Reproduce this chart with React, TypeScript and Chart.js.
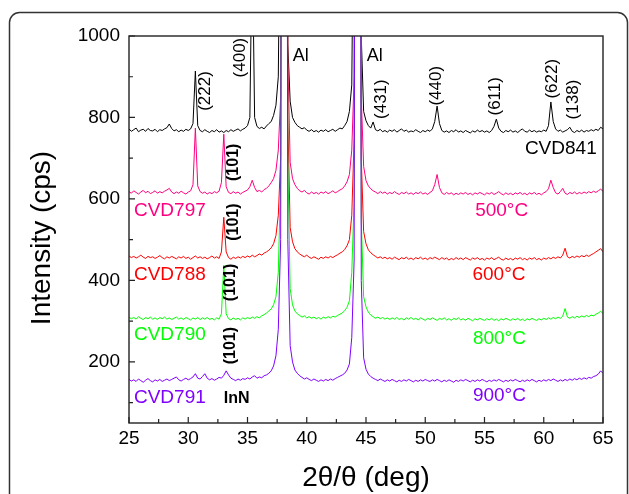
import React, { useEffect, useRef } from 'react';
import { Chart, registerables } from 'chart.js';

Chart.register(...registerables);

const FONT = "'Liberation Sans', Arial, Helvetica, sans-serif";

// Scan grid (2θ, deg), 0.2° step from 25 to 65
const twoTheta: number[] = Array.from({ length: 201 }, (_, i) => Math.round((25 + i * 0.2) * 10) / 10);

// Intensities (cps), one value per 0.2° step
const cvd841 = [
  772, 766, 770, 774, 765, 769, 771, 766, 773, 768,
  767, 771, 765, 770, 768, 772, 775, 784, 773, 767,
  770, 765, 769, 766, 771, 768, 772, 785, 914, 780,
  768, 765, 770, 766, 763, 768, 765, 770, 764, 767,
  763, 768, 765, 770, 766, 769, 772, 767, 771, 774,
  780, 800, 1250, 800, 778, 773, 776, 772, 779, 785,
  790, 805, 830, 900, 1500, 4000, 4000, 980, 840, 800,
  788, 780, 776, 772, 775, 769, 766, 770, 765, 768,
  764, 769, 766, 770, 765, 768, 771, 766, 770, 774,
  772, 780, 790, 815, 880, 1500, 4000, 4000, 1000, 815,
  792, 780, 774, 789, 770, 767, 771, 765, 768, 764,
  769, 766, 770, 764, 768, 772, 766, 769, 764, 767,
  765, 770, 766, 763, 768, 765, 769, 766, 772, 790,
  828, 785, 768, 764, 767, 763, 768, 765, 770, 764,
  767, 763, 768, 765, 762, 767, 764, 769, 765, 768,
  764, 767, 763, 768, 778, 796, 774, 766, 763, 768,
  765, 769, 764, 767, 763, 768, 772, 766, 764, 769,
  765, 768, 764, 767, 765, 769, 766, 780, 838, 790,
  772, 766, 769, 764, 767, 770, 776, 766, 763, 768,
  765, 769, 764, 768, 766, 770, 767, 771, 768, 776,
  772,
];

const cvd797 = [
  618, 614, 620, 616, 612, 617, 621, 615, 619, 613,
  616, 620, 614, 618, 615, 619, 622, 626, 617, 613,
  617, 614, 619, 615, 612, 617, 620, 635, 774, 632,
  618, 614, 617, 612, 616, 613, 618, 615, 619, 640,
  759, 630, 616, 613, 618, 614, 617, 612, 616, 619,
  622, 630, 646, 628, 618, 621, 617, 623, 626, 632,
  640, 650, 670, 720, 850, 4000, 4000, 950, 690, 650,
  635, 626, 620, 617, 621, 615, 612, 617, 613, 616,
  612, 617, 614, 618, 613, 616, 620, 615, 618, 622,
  625, 632, 642, 660, 720, 900, 4000, 4000, 850, 680,
  645, 632, 625, 620, 617, 613, 618, 614, 617, 612,
  616, 613, 618, 614, 611, 616, 613, 617, 612, 615,
  611, 616, 613, 617, 612, 615, 611, 616, 620, 635,
  660, 628, 615, 611, 616, 612, 615, 610, 614, 611,
  615, 612, 616, 611, 614, 610, 615, 612, 616, 613,
  610, 615, 612, 616, 611, 614, 618, 613, 610, 615,
  611, 614, 610, 615, 612, 616, 611, 614, 610, 615,
  612, 616, 611, 614, 610, 615, 618, 625, 646, 628,
  615, 612, 618, 626, 614, 611, 616, 613, 617, 612,
  616, 613, 617, 614, 618, 615, 619, 616, 620, 624,
  619,
];

const cvd788 = [
  460, 456, 459, 455, 458, 462, 457, 454, 459, 456,
  458, 454, 457, 461, 456, 453, 458, 455, 459, 456,
  453, 458, 455, 459, 454, 457, 452, 456, 460, 455,
  458, 454, 457, 453, 456, 460, 455, 458, 454, 470,
  555, 470, 456, 452, 457, 454, 458, 455, 459, 456,
  460, 457, 462, 458, 461, 465, 462, 467, 470, 474,
  480, 490, 510, 560, 700, 4000, 4000, 800, 530, 495,
  478, 470, 465, 461, 458, 462, 457, 454, 458, 455,
  452, 457, 454, 458, 455, 459, 456, 460, 463, 467,
  470, 476, 485, 500, 560, 750, 4000, 4000, 700, 520,
  490, 475, 468, 463, 459, 455, 458, 454, 457, 453,
  456, 452, 457, 454, 451, 456, 453, 457, 452, 455,
  451, 456, 453, 457, 452, 455, 451, 456, 453, 457,
  454, 451, 456, 452, 455, 450, 454, 451, 456, 452,
  455, 451, 456, 453, 450, 455, 452, 456, 451, 454,
  450, 455, 452, 456, 451, 454, 457, 452, 450, 455,
  451, 454, 450, 455, 452, 456, 451, 454, 450, 455,
  452, 456, 451, 454, 450, 455, 452, 456, 453, 457,
  454, 458, 455, 462, 479, 458, 455, 459, 456, 460,
  457, 461, 458, 462, 459, 463, 466, 470, 474, 478,
  470,
];

const cvd790 = [
  310, 306, 309, 305, 311, 307, 304, 309, 306, 310,
  305, 308, 304, 309, 306, 310, 305, 308, 304, 307,
  310, 305, 308, 304, 309, 306, 303, 308, 305, 309,
  304, 308, 305, 309, 304, 307, 303, 308, 305, 318,
  437, 318, 306, 303, 308, 304, 307, 303, 308, 305,
  309, 306, 310, 307, 311, 308, 313, 316, 320, 325,
  330, 340, 360, 420, 650, 4000, 4000, 700, 380, 340,
  325, 318, 314, 310, 313, 308, 311, 307, 310, 306,
  309, 305, 310, 307, 311, 308, 312, 310, 314, 317,
  320, 326, 334, 350, 420, 600, 4000, 4000, 550, 360,
  335, 322, 315, 311, 307, 310, 306, 309, 305, 308,
  304, 308, 305, 309, 304, 307, 303, 308, 305, 309,
  304, 307, 303, 308, 305, 302, 307, 304, 308, 305,
  302, 307, 304, 308, 303, 306, 302, 307, 304, 308,
  303, 306, 302, 307, 304, 301, 306, 303, 307, 304,
  302, 306, 303, 307, 302, 305, 301, 306, 303, 307,
  304, 302, 306, 303, 307, 302, 305, 301, 306, 303,
  307, 304, 302, 306, 303, 307, 304, 308, 305, 309,
  306, 310, 307, 312, 331, 310, 307, 311, 308, 312,
  309, 313, 310, 314, 311, 315, 313, 317, 320, 324,
  319,
];

const cvd791 = [
  157, 153, 156, 152, 158, 154, 150, 155, 159, 154,
  151, 156, 153, 157, 152, 155, 158, 154, 157, 160,
  163, 156, 153, 157, 160, 156, 159, 163, 171, 160,
  158, 164, 171, 160, 156, 159, 155, 158, 162, 160,
  167, 178, 168, 160, 157, 154, 158, 155, 159, 157,
  161, 158, 163, 166, 160, 163, 161, 166, 168, 172,
  178, 190, 215, 280, 500, 4000, 4000, 500, 240, 200,
  180, 172, 166, 162, 158, 161, 157, 154, 158, 155,
  152, 156, 153, 157, 154, 158, 155, 159, 162, 165,
  168, 172, 180, 195, 260, 450, 4000, 4000, 400, 210,
  182, 170, 164, 160, 157, 154, 158, 155, 152, 156,
  153, 157, 154, 151, 155, 152, 156, 153, 157, 154,
  151, 155, 152, 156, 153, 157, 154, 152, 156, 153,
  157, 154, 151, 155, 152, 156, 153, 150, 155, 152,
  156, 153, 157, 154, 151, 155, 152, 156, 153, 157,
  154, 151, 155, 152, 156, 153, 157, 154, 151, 155,
  152, 156, 153, 157, 154, 151, 155, 152, 156, 153,
  157, 154, 151, 155, 152, 156, 153, 157, 154, 158,
  155, 152, 156, 153, 157, 154, 158, 155, 159, 156,
  160, 157, 161, 158, 162, 160, 164, 166, 170, 178,
  172,
];

const seriesNames = ['CVD841', 'CVD797', 'CVD788', 'CVD790', 'CVD791'];
const seriesColors = ['#000000', '#ff0080', '#ff0000', '#00ff00', '#8000ff'];
const seriesData = [cvd841, cvd797, cvd788, cvd790, cvd791];

const xTicks = [25, 30, 35, 40, 45, 50, 55, 60, 65];
const xMinorTicks = [27.5, 32.5, 37.5, 42.5, 47.5, 52.5, 57.5, 62.5];
const yTicks = [200, 400, 600, 800, 1000];
const yMinorTicks = [100, 300, 500, 700, 900];

const xTitle = '2θ/θ (deg)';
const yTitle = 'Intensity (cps)';

// Text annotations, placed in data coordinates
type Note = { text: string; x: number; y: number; color: string; size: number; bold?: boolean; rot?: boolean; align?: CanvasTextAlign };
const peakLabels: Note[] = [
  { text: '(222)', x: 31.41, y: 865, color: '#000', size: 17, rot: true },
  { text: '(400)', x: 34.41, y: 947, color: '#000', size: 17, rot: true },
  { text: 'Al', x: 38.81, y: 951, color: '#000', size: 18, align: 'left' },
  { text: 'Al', x: 45.06, y: 951, color: '#000', size: 18, align: 'left' },
  { text: '(431)', x: 46.27, y: 845, color: '#000', size: 17, rot: true },
  { text: '(440)', x: 50.95, y: 878, color: '#000', size: 17, rot: true },
  { text: '(611)', x: 55.89, y: 852, color: '#000', size: 17, rot: true },
  { text: '(622)', x: 60.74, y: 895, color: '#000', size: 17, rot: true },
  { text: '(138)', x: 62.49, y: 844, color: '#000', size: 17, rot: true },
  { text: '(101)', x: 33.85, y: 690, color: '#000', size: 16, bold: true, rot: true },
  { text: '(101)', x: 33.85, y: 543, color: '#000', size: 16, bold: true, rot: true },
  { text: '(101)', x: 33.55, y: 395, color: '#000', size: 16, bold: true, rot: true },
  { text: '(101)', x: 33.55, y: 240, color: '#000', size: 16, bold: true, rot: true },
  { text: 'InN', x: 34.09, y: 111, color: '#000', size: 16, bold: true },
];
const sampleLabels: Note[] = [
  { text: 'CVD841', x: 64.47, y: 724, color: '#000000', size: 19, align: 'right' },
  { text: 'CVD797', x: 25.42, y: 570, color: '#ff0080', size: 19, align: 'left' },
  { text: 'CVD788', x: 25.42, y: 415, color: '#ff0000', size: 19, align: 'left' },
  { text: 'CVD790', x: 25.42, y: 267, color: '#00ff00', size: 19, align: 'left' },
  { text: 'CVD791', x: 25.42, y: 111, color: '#8000ff', size: 19, align: 'left' },
];
const tempLabels: Note[] = [
  { text: '500°C', x: 56.45, y: 570, color: '#ff0080', size: 19 },
  { text: '600°C', x: 56.22, y: 415, color: '#ff0000', size: 19 },
  { text: '800°C', x: 56.26, y: 257, color: '#00ff00', size: 19 },
  { text: '900°C', x: 56.26, y: 116, color: '#8000ff', size: 19 },
];

function drawNote(ctx: CanvasRenderingContext2D, chart: any, n: Note) {
  const px = chart.scales.x.getPixelForValue(n.x);
  const py = chart.scales.y.getPixelForValue(n.y);
  ctx.save();
  ctx.fillStyle = n.color;
  ctx.font = `${n.bold ? 'bold ' : ''}${n.size}px ${FONT}`;
  ctx.textBaseline = 'middle';
  ctx.translate(px, py);
  if (n.rot) {
    ctx.rotate(-Math.PI / 2);
    ctx.textAlign = 'center';
  } else {
    ctx.textAlign = n.align || 'center';
  }
  ctx.fillText(n.text, 0, 0);
  ctx.restore();
}

const decorPlugin = {
  id: 'decor',
  beforeDraw(chart: any) {
    const ctx = chart.ctx as CanvasRenderingContext2D;
    ctx.save();
    ctx.fillStyle = '#ffffff';
    ctx.fillRect(0, 0, chart.width, chart.height);
    ctx.strokeStyle = '#333333';
    ctx.lineWidth = 1.5;
    ctx.beginPath();
    (ctx as any).roundRect(9.5, 12.5, 618, 600, 10);
    ctx.stroke();
    ctx.restore();
  },
  afterDraw(chart: any) {
    const ctx = chart.ctx as CanvasRenderingContext2D;
    const { left, right, top, bottom } = chart.chartArea;
    const xs = chart.scales.x;
    const ys = chart.scales.y;
    ctx.save();
    ctx.strokeStyle = '#222222';
    ctx.lineWidth = 1.4;
    ctx.strokeRect(left, top, right - left, bottom - top);
    ctx.lineWidth = 1.2;
    ctx.beginPath();
    xTicks.forEach((v) => { const p = xs.getPixelForValue(v); ctx.moveTo(p, bottom); ctx.lineTo(p, bottom - 6); });
    xMinorTicks.forEach((v) => { const p = xs.getPixelForValue(v); ctx.moveTo(p, bottom); ctx.lineTo(p, bottom - 4); });
    yTicks.forEach((v) => { const p = ys.getPixelForValue(v); ctx.moveTo(left, p); ctx.lineTo(left + 6, p); });
    yMinorTicks.forEach((v) => { const p = ys.getPixelForValue(v); ctx.moveTo(left, p); ctx.lineTo(left + 4, p); });
    ctx.stroke();

    // axis titles
    ctx.fillStyle = '#000';
    ctx.font = `28px ${FONT}`;
    ctx.textAlign = 'center';
    ctx.textBaseline = 'middle';
    ctx.fillText(xTitle, (left + right) / 2, 478);
    ctx.save();
    ctx.translate(42, 238);
    ctx.rotate(-Math.PI / 2);
    ctx.fillText(yTitle, 0, 0);
    ctx.restore();
    ctx.restore();

    [...peakLabels, ...sampleLabels, ...tempLabels].forEach((n) => drawNote(ctx, chart, n));
  },
};

export default function App() {
  const ref = useRef<HTMLCanvasElement | null>(null);
  useEffect(() => {
    if (!ref.current) return;
    const order = [4, 3, 2, 1, 0];
    const chart = new Chart(ref.current, {
      type: 'line',
      data: {
        datasets: seriesData.map((arr, k) => ({
          label: seriesNames[k],
          data: arr.map((y, i) => ({ x: twoTheta[i], y })),
          borderColor: seriesColors[k],
          backgroundColor: seriesColors[k],
          borderWidth: 1,
          pointRadius: 0,
          tension: 0,
          fill: false,
          order: order[k],
        })),
      },
      options: {
        animation: false,
        responsive: false,
        devicePixelRatio: 1,
        events: [],
        layout: { padding: { left: 0, top: 36, right: 26, bottom: 0 } },
        plugins: { legend: { display: false }, tooltip: { enabled: false }, title: { display: false } },
        scales: {
          x: {
            type: 'linear',
            min: 25,
            max: 65,
            grid: { display: false, drawTicks: false, tickLength: 0 },
            border: { display: false },
            afterBuildTicks: (s: any) => { s.ticks = xTicks.map((v) => ({ value: v })); },
            afterFit: (s: any) => { s.height = 71; },
            ticks: {
              autoSkip: false,
              maxRotation: 0,
              minRotation: 0,
              padding: 4,
              color: '#000',
              font: { family: FONT, size: 19 },
              callback: (v: any) => String(v),
            },
          },
          y: {
            type: 'linear',
            min: 50,
            max: 1000,
            grid: { display: false, drawTicks: false, tickLength: 0 },
            border: { display: false },
            afterBuildTicks: (s: any) => { s.ticks = yTicks.map((v) => ({ value: v })); },
            afterFit: (s: any) => { s.width = 129; },
            ticks: {
              padding: 9,
              color: '#000',
              font: { family: FONT, size: 19 },
              callback: (v: any) => String(v),
            },
          },
        },
      },
      plugins: [decorPlugin],
    } as any);
    return () => chart.destroy();
  }, []);
  return (
    <div style={{ position: 'fixed', left: 0, top: 0, width: 629, height: 494, overflow: 'hidden', background: '#fff' }}>
      <canvas ref={ref} width={629} height={494} style={{ display: 'block', width: 629, height: 494 }} />
    </div>
  );
}
